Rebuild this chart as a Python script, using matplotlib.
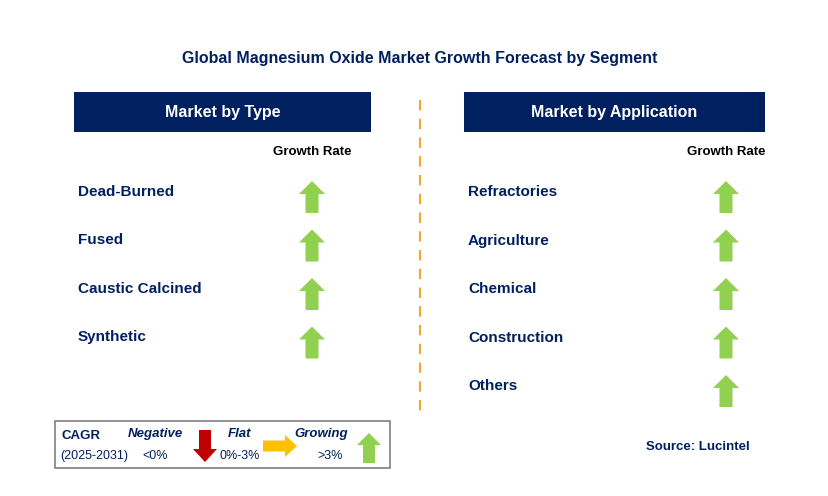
import matplotlib.pyplot as plt
from matplotlib.patches import Polygon, Rectangle

plt.rcParams['font.family'] = 'Liberation Sans'

title = "Global Magnesium Oxide Market Growth Forecast by Segment"
type_labels = ["Dead-Burned", "Fused", "Caustic Calcined", "Synthetic"]
type_trend = ["up", "up", "up", "up"]
app_labels = ["Refractories", "Agriculture", "Chemical", "Construction", "Others"]
app_trend = ["up", "up", "up", "up", "up"]

NAVY = "#002060"
GREEN = "#92D050"
RED = "#C00000"
AMBER = "#FFC000"

fig = plt.figure(figsize=(8.29, 4.96), dpi=100)
ax = fig.add_axes([0, 0, 1, 1])
ax.set_xlim(0, 829)
ax.set_ylim(496, 0)
ax.axis('off')


def arrow(ax, cx, cy, direction, color, L=32, W=26, sw=13, hl=13):
    # arrow centred at (cx, cy), pointing up/down/right
    h, s = W / 2, sw / 2
    if direction == "up":
        t, b = cy - L / 2, cy + L / 2
        pts = [(cx, t), (cx + h, t + hl), (cx + s, t + hl), (cx + s, b),
               (cx - s, b), (cx - s, t + hl), (cx - h, t + hl)]
    elif direction == "down":
        t, b = cy - L / 2, cy + L / 2
        pts = [(cx, b), (cx + h, b - hl), (cx + s, b - hl), (cx + s, t),
               (cx - s, t), (cx - s, b - hl), (cx - h, b - hl)]
    else:
        l, r = cx - L / 2, cx + L / 2
        pts = [(r, cy), (r - hl, cy - h), (r - hl, cy - s), (l, cy - s),
               (l, cy + s), (r - hl, cy + s), (r - hl, cy + h)]
    ax.add_patch(Polygon(pts, closed=True, color=color, lw=0))


colors = {"up": GREEN, "down": RED, "right": AMBER}

ax.text(420, 58, title, ha='center', va='center', fontsize=11.5,
        fontweight='bold', color=NAVY)


def panel(x0, x1, header, labels, trends, arrow_x):
    ax.add_patch(Rectangle((x0, 92), x1 - x0, 40, color=NAVY, lw=0))
    ax.text((x0 + x1) / 2, 112, header, ha='center', va='center',
            fontsize=11.5, fontweight='bold', color='white')
    ax.text(arrow_x, 152, "Growth Rate", ha='center', va='center',
            fontsize=9.5, fontweight='bold', color='black')
    for i, (lab, tr) in enumerate(zip(labels, trends)):
        y = 192 + i * 48.5
        ax.text(x0 + 4, y, lab, ha='left', va='center', fontsize=11,
                fontweight='bold', color=NAVY)
        arrow(ax, arrow_x, y + 5, tr, colors[tr])


panel(74, 371, "Market by Type", type_labels, type_trend, 312)
panel(464, 765, "Market by Application", app_labels, app_trend, 726)

ax.plot([420, 420], [100, 412], ls=(0, (5, 4)), color='#F0A830', lw=1.5)

# legend box
ax.add_patch(Rectangle((55, 421), 335, 47, fill=False, ec='#7f7f7f', lw=1.2))
ax.text(62, 436, "CAGR", fontsize=9.5, fontweight='bold', color=NAVY, va='center')
ax.text(60, 456, "(2025-2031)", fontsize=9, color=NAVY, va='center')
ax.text(155, 434, "Negative", fontsize=9.5, fontweight='bold', style='italic',
        color=NAVY, va='center', ha='center')
ax.text(155, 456, "<0%", fontsize=9, color=NAVY, va='center', ha='center')
arrow(ax, 205, 446, "down", RED, L=32, W=24, sw=12, hl=13)
ax.text(240, 434, "Flat", fontsize=9.5, fontweight='bold', style='italic',
        color=NAVY, va='center', ha='center')
ax.text(240, 456, "0%-3%", fontsize=9, color=NAVY, va='center', ha='center')
arrow(ax, 280, 446, "right", AMBER, L=34, W=22, sw=11, hl=12)
ax.text(321, 434, "Growing", fontsize=9.5, fontweight='bold', style='italic',
        color=NAVY, va='center', ha='center')
ax.text(330, 456, ">3%", fontsize=9, color=NAVY, va='center', ha='center')
arrow(ax, 369, 448, "up", GREEN, L=30, W=24, sw=12, hl=12)

ax.text(750, 447, "Source: Lucintel", ha='right', va='center', fontsize=9.5,
        fontweight='bold', color=NAVY)

fig.savefig("out.png", dpi=100)
